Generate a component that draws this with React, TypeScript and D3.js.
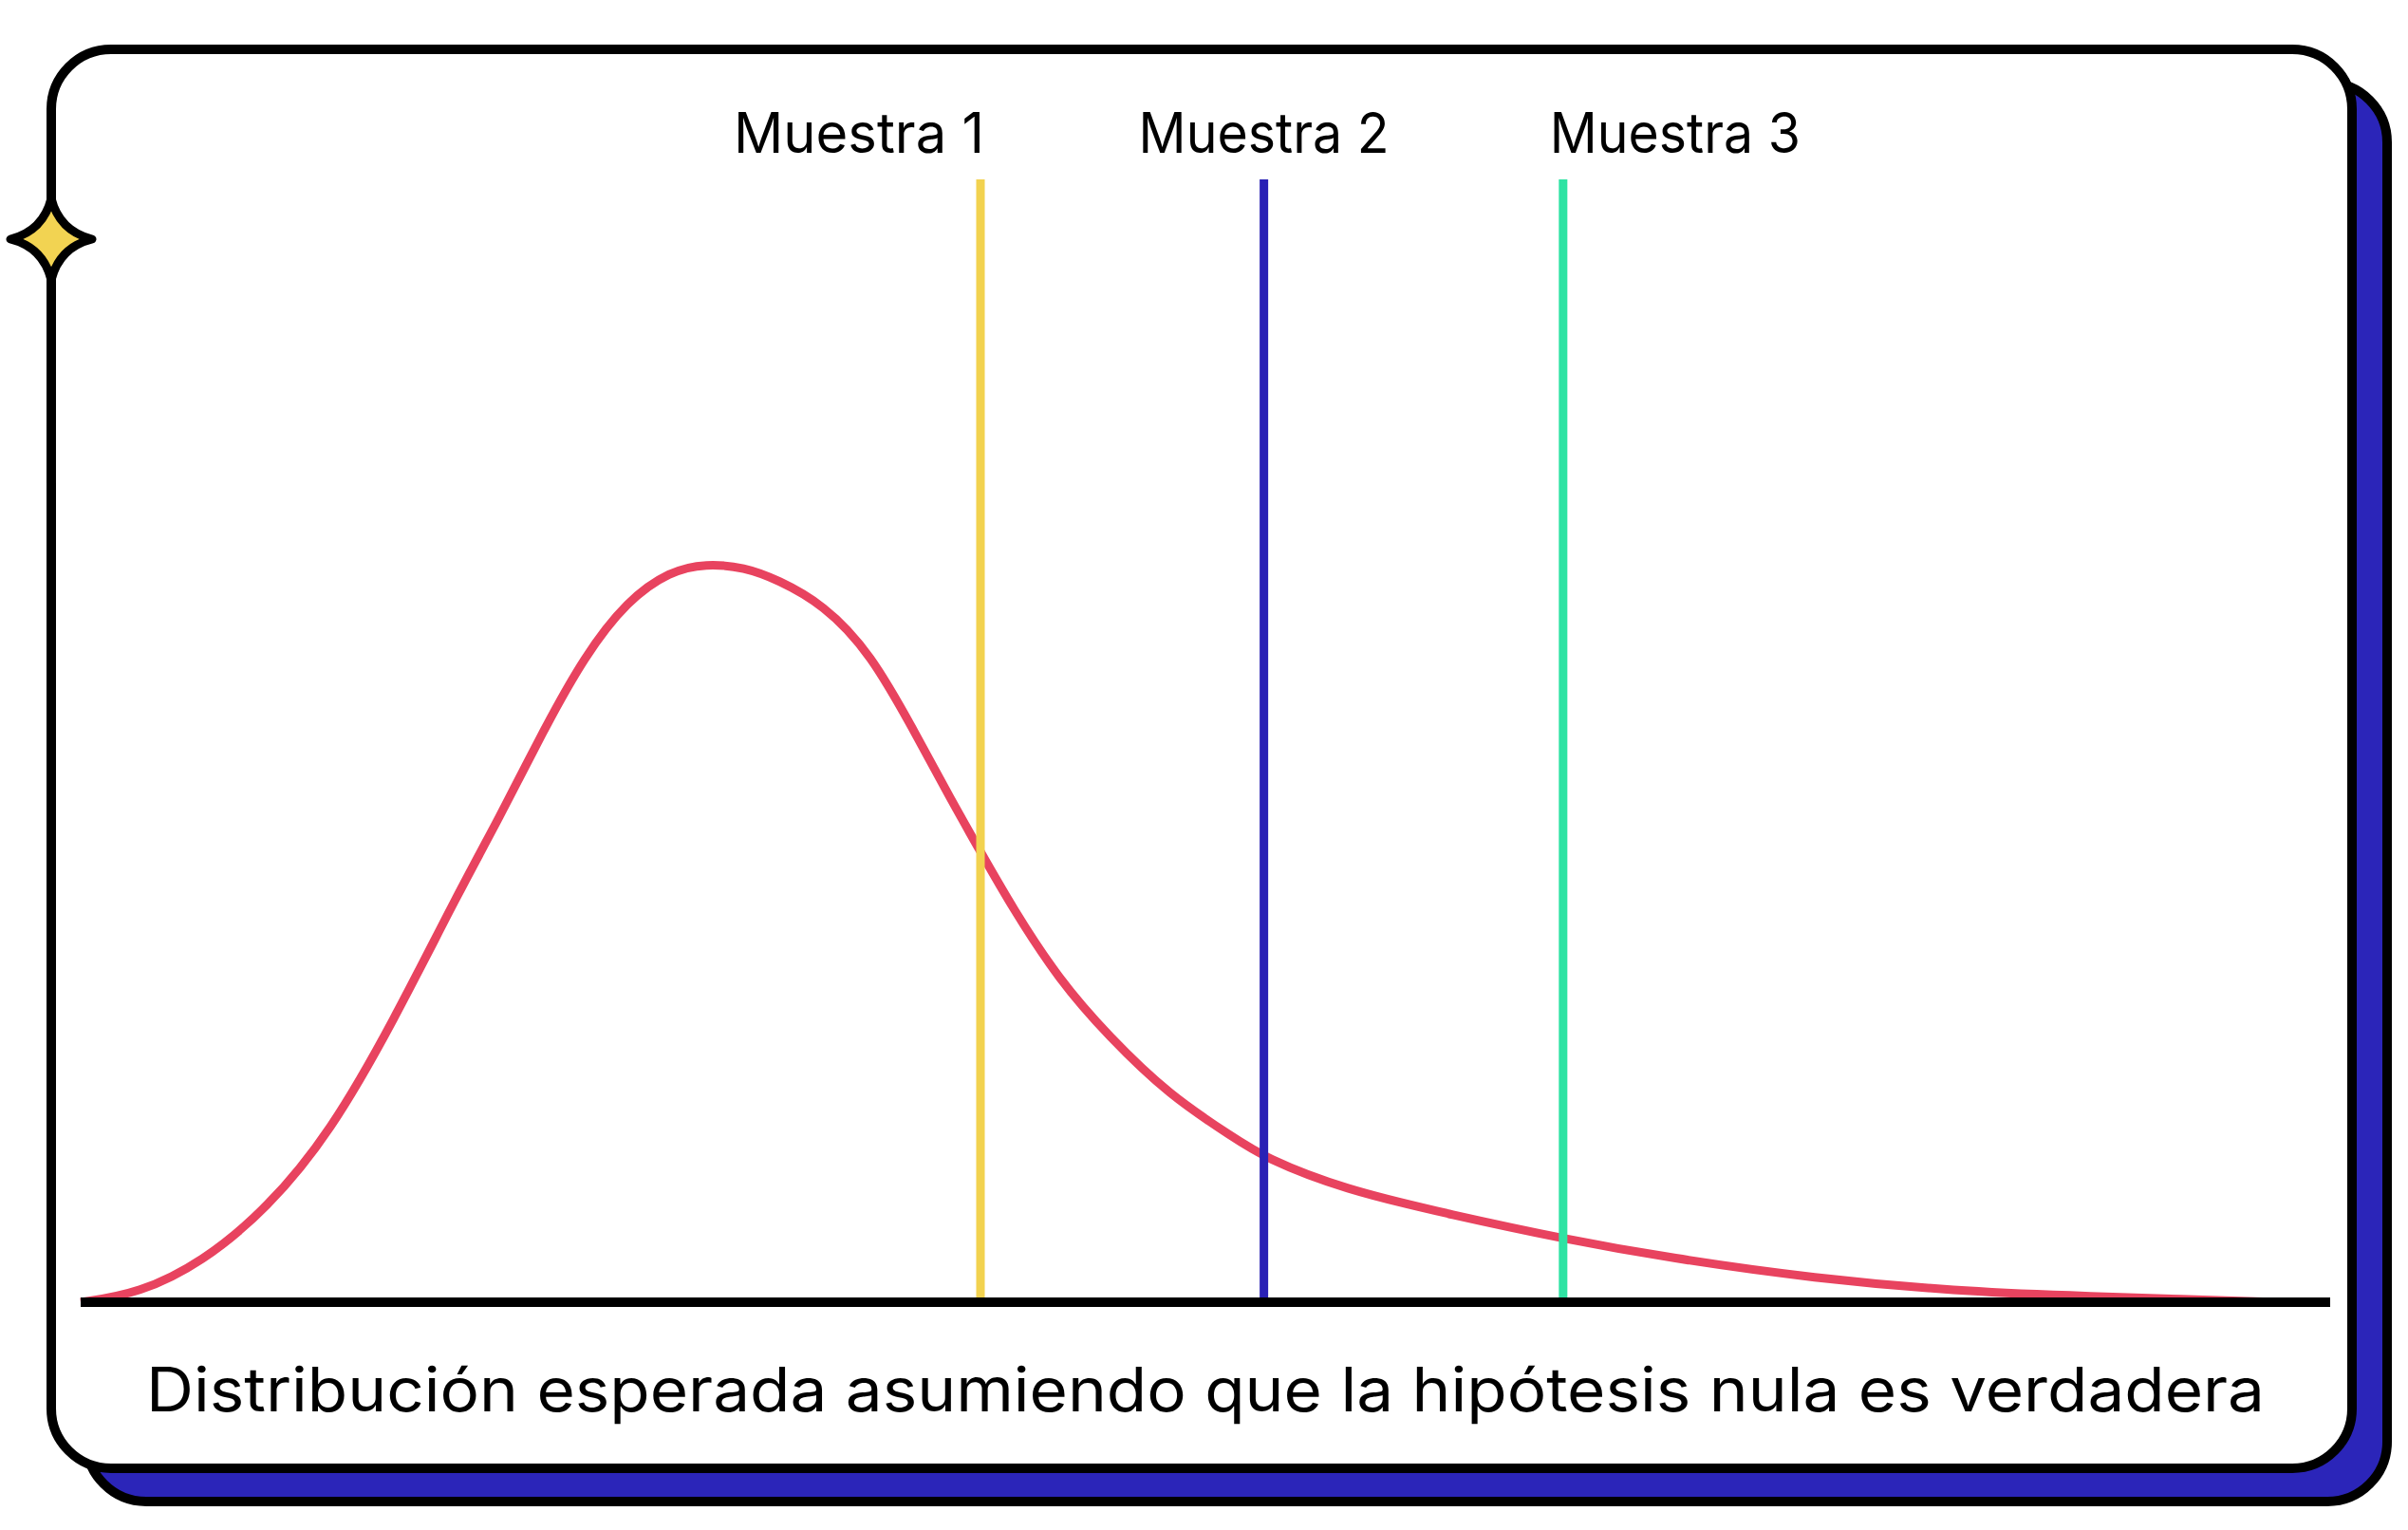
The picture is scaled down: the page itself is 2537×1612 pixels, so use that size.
import * as d3 from "d3";
import { useEffect, useRef } from "react";

// curva de densidad (x en unidades del eje, y relativa al pico)
const curveX = [0, 0.26, 0.54, 0.83, 1.11, 1.39, 1.68, 1.86, 2.05, 2.24, 2.43, 2.62, 2.78, 2.95, 3.1, 3.3, 3.51, 3.72, 3.86, 4.0, 4.14, 4.35, 4.57, 4.84, 5.13, 5.26, 5.61, 6.1, 6.59, 7.06, 7.71, 8.35, 8.84, 9.35, 9.77];
const curveY = [0, 0.012, 0.054, 0.127, 0.23, 0.38, 0.555, 0.655, 0.77, 0.875, 0.95, 0.99, 1.0, 0.995, 0.978, 0.945, 0.88, 0.765, 0.685, 0.61, 0.535, 0.436, 0.36, 0.28, 0.222, 0.196, 0.153, 0.118, 0.086, 0.06, 0.032, 0.015, 0.009, 0.004, 0];

// muestras
const sampleNames = ["Muestra 1", "Muestra 2", "Muestra 3"];
const sampleValues = [4.0, 5.26, 6.59];
const sampleColors = ["#f2d24f", "#2a21b5", "#2ee3a3"];
const sampleAnchors = ["end", "middle", "start"];
const sampleDx = [4, 0, -14];

const xDomain = [0, 10];
const yDomain = [0, 1.52];
const axisLabel = "Distribución esperada asumiendo que la hipótesis nula es verdadera";

const W = 2537;
const H = 1612;

const App = () => {
  const chartRef = useRef<SVGSVGElement>(null);

  useEffect(() => {
    const svg = d3.select(chartRef.current);
    svg.selectAll("*").remove();

    // tarjeta con sombra azul
    const card = { x: 54, y: 52, w: 2424, h: 1495, r: 63 };
    const off = 37;

    svg.append("rect")
      .attr("x", card.x + off).attr("y", card.y + off - 2)
      .attr("width", card.w).attr("height", card.h)
      .attr("rx", card.r)
      .style("fill", "#2b25b9").style("stroke", "#000").style("stroke-width", 10);

    svg.append("rect")
      .attr("x", card.x).attr("y", card.y)
      .attr("width", card.w).attr("height", card.h)
      .attr("rx", card.r)
      .style("fill", "#fff").style("stroke", "#000").style("stroke-width", 10);

    // escalas
    const scaleX = d3.scaleLinear().domain(xDomain).range([85, 2455]);
    const scaleY = d3.scaleLinear().domain(yDomain).range([1372, 189]);

    const points = curveX.map((x, i) => [x, curveY[i]] as [number, number]);
    const line = d3.line<[number, number]>()
      .x(d => scaleX(d[0]))
      .y(d => scaleY(d[1]))
      .curve(d3.curveBasis);

    svg.append("path")
      .datum(points)
      .attr("d", line)
      .style("fill", "none")
      .style("stroke", "#e8435f")
      .style("stroke-width", 9);

    // líneas verticales de las muestras
    svg.selectAll(".sample")
      .data(sampleValues)
      .enter()
      .append("line")
      .attr("x1", d => scaleX(d)).attr("x2", d => scaleX(d))
      .attr("y1", scaleY(0)).attr("y2", scaleY(yDomain[1]))
      .style("stroke", (d, i) => sampleColors[i])
      .style("stroke-width", 9);

    svg.selectAll(".sampleLabel")
      .data(sampleValues)
      .enter()
      .append("text")
      .attr("x", (d, i) => scaleX(d) + sampleDx[i])
      .attr("y", 161)
      .attr("text-anchor", (d, i) => sampleAnchors[i])
      .attr("textLength", 264)
      .attr("lengthAdjust", "spacingAndGlyphs")
      .style("font-family", "Inter, 'Noto Sans', sans-serif")
      .style("font-size", "59px")
      .style("fill", "#000")
      .text((d, i) => sampleNames[i]);

    // eje base
    svg.append("line")
      .attr("x1", scaleX(xDomain[0])).attr("x2", scaleX(xDomain[1]))
      .attr("y1", scaleY(0)).attr("y2", scaleY(0))
      .style("stroke", "#000").style("stroke-width", 10);

    svg.append("text")
      .attr("x", (scaleX(xDomain[0]) + scaleX(xDomain[1])) / 2)
      .attr("y", 1487)
      .attr("text-anchor", "middle")
      .attr("textLength", 2232)
      .attr("lengthAdjust", "spacingAndGlyphs")
      .style("font-family", "Inter, 'Noto Sans', sans-serif")
      .style("font-size", "64px")
      .style("fill", "#000")
      .text(axisLabel);

    // estrella decorativa
    const r = 43;
    const c = 0.2 * r;
    const star = `M0,${-r} Q${c},${-c} ${r},0 Q${c},${c} 0,${r} Q${-c},${c} ${-r},0 Q${-c},${-c} 0,${-r} Z`;
    svg.append("path")
      .attr("d", star)
      .attr("transform", `translate(${card.x}, 252)`)
      .style("fill", "#f2d352")
      .style("stroke", "#000")
      .style("stroke-width", 9)
      .style("stroke-linejoin", "round");
  }, []);

  return (
    <svg ref={chartRef} width={W} height={H}
      style={{ position: "absolute", left: 0, top: 0, background: "#fff" }} />
  );
};

export default App;
